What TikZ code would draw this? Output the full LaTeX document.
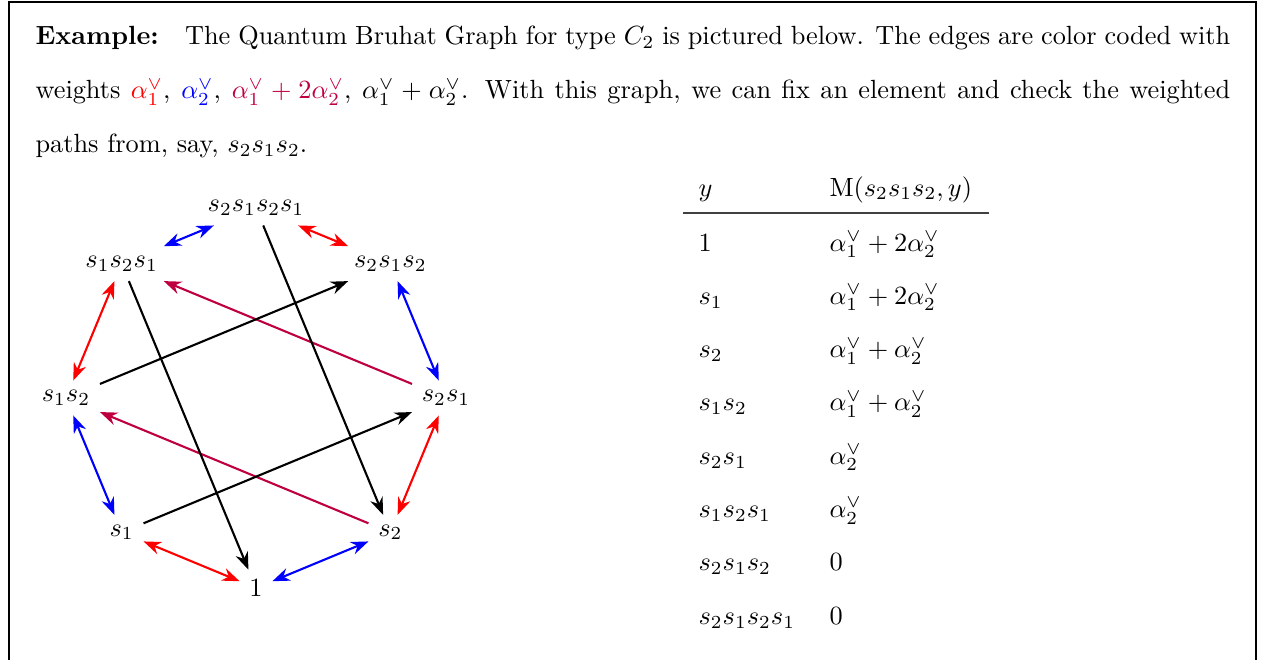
\documentclass[tikz,border=0pt]{standalone}
\usepackage{tikz}
\usetikzlibrary{arrows.meta}

\begin{document}
\begin{tikzpicture}[>=Stealth, x=0.38pt, y=0.38pt,
    cell/.style={anchor=base west, inner sep=0pt}]
  \useasboundingbox (0,0) rectangle (1262,659);

  % Khung
  \draw[line width=0.6pt] (9,-20) rectangle (1256,657);

  % Đoạn văn
  \node[anchor=base west, inner sep=0pt, text width=454pt, align=justify,
        font=\fontsize{10}{20.5}\selectfont] (para) at (35,614)
    {\textbf{Example:}\quad The Quantum Bruhat Graph for type $C_2$ is pictured below. The edges are color coded with\linebreak
     weights $\color{red}\alpha_1^\vee$, $\color{blue}\alpha_2^\vee$, $\color{purple}\alpha_1^\vee+2\alpha_2^\vee$, $\alpha_1^\vee+\alpha_2^\vee$. With this graph, we can fix an element and check the weighted\linebreak
     paths from, say, $s_2s_1s_2$.};

  % Đồ thị
  \begin{scope}[shift={(256,261)}, thick]
    \node (s2121) at (90:190)  {$s_2s_1s_2s_1$};
    \node (s121)  at (135:190) {$s_1s_2s_1$};
    \node (s212)  at (45:190)  {$s_2s_1s_2$};
    \node (s12)   at (180:190) {$s_1s_2$};
    \node (s21)   at (0:190)   {$s_2s_1$};
    \node (s1)    at (225:190) {$s_1$};
    \node (s2)    at (315:190) {$s_2$};
    \node (e)     at (270:190) {$1$};

    % Cạnh xanh
    \draw[<->, blue] (s121) -- (s2121);
    \draw[<->, blue] (s212) -- (s21);
    \draw[<->, blue] (s12) -- (s1);
    \draw[<->, blue] (e) -- (s2);

    % Cạnh đỏ
    \draw[<->, red] (s2121) -- (s212);
    \draw[<->, red] (s121) -- (s12);
    \draw[<->, red] (s21) -- (s2);
    \draw[<->, red] (s1) -- (e);

    % Cạnh tím
    \draw[->, purple] (s21) -- (s121);
    \draw[->, purple] (s2) -- (s12);

    % Cạnh đen
    \draw[->] (s2121) -- (s2);
    \draw[->] (s121) -- (e);
    \draw[->] (s12) -- (s212);
    \draw[->] (s1) -- (s21);
  \end{scope}

  % Bảng
  \node[cell] (hy) at (698,463) {$y$};
  \node[cell] (hm) at (829,463) {$\mathrm{M}(s_2s_1s_2,y)$};
  \coordinate (rl) at (683,446);
  \coordinate (rr) at (989,446);
  \draw[line width=0.6pt, black!75] (rl) -- (rr);
  \foreach \ya/\mb [count=\i from 0] in {1/\alpha_1^\vee+2\alpha_2^\vee, s_1/\alpha_1^\vee+2\alpha_2^\vee,
      s_2/\alpha_1^\vee+\alpha_2^\vee, s_1s_2/\alpha_1^\vee+\alpha_2^\vee, s_2s_1/\alpha_2^\vee,
      s_1s_2s_1/\alpha_2^\vee, s_2s_1s_2/0, s_2s_1s_2s_1/0}
  {
    \node[cell] (y\i) at (698,{408-53.3*\i}) {$\ya$};
    \node[cell] (m\i) at (829,{408-53.3*\i}) {$\mb$};
  }
\end{tikzpicture}
\end{document}
